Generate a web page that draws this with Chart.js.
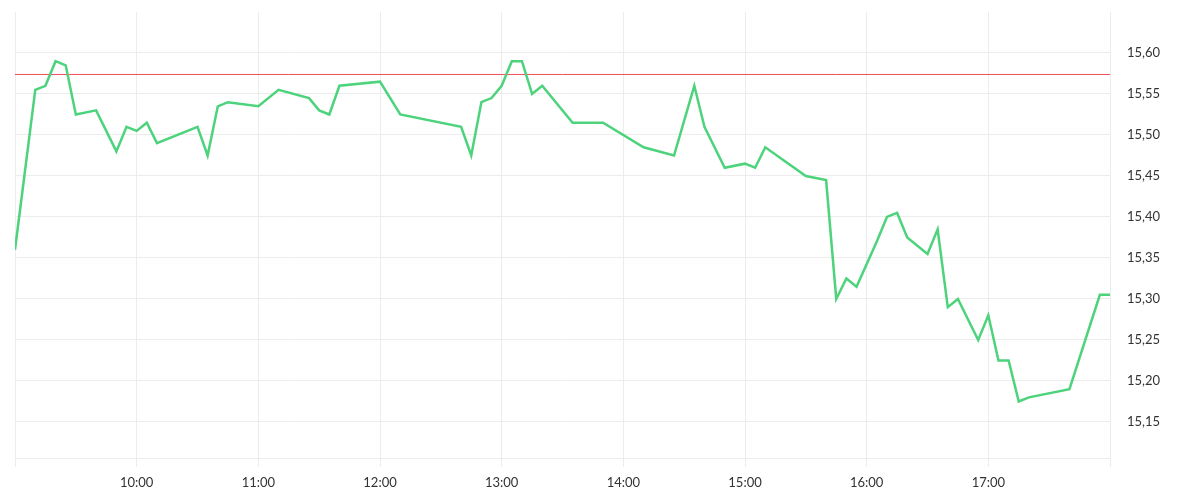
<!DOCTYPE html>
<html>
<head>
<meta charset="utf-8">
<script src="https://cdn.jsdelivr.net/npm/chart.js@4.4.1/dist/chart.umd.min.js"></script>
<style>
  html, body { margin: 0; padding: 0; background: #ffffff; }
  #wrap { width: 1200px; height: 500px; position: relative; }
</style>
</head>
<body>
<div id="wrap"><canvas id="c"></canvas></div>
<script>
// ---- data ----
const times = [
  "09:00","09:10","09:15","09:20","09:25","09:30","09:40","09:50","09:55",
  "10:00","10:05","10:10","10:30","10:35","10:40","10:45",
  "11:00","11:10","11:25","11:30","11:35","11:40",
  "12:00","12:10","12:40","12:45","12:50","12:55",
  "13:00","13:05","13:10","13:15","13:20","13:35","13:50",
  "14:10","14:25","14:35","14:40","14:50",
  "15:00","15:05","15:10","15:30","15:40","15:45","15:50","15:55",
  "16:05","16:10","16:15","16:20","16:30","16:35","16:40","16:45","16:55",
  "17:00","17:05","17:10","17:15","17:20","17:40","17:55","18:00"
];
const prices = [
  15.36,15.555,15.56,15.59,15.585,15.525,15.53,15.48,15.51,
  15.505,15.515,15.49,15.51,15.475,15.535,15.54,
  15.535,15.555,15.545,15.53,15.525,15.56,
  15.565,15.525,15.51,15.475,15.54,15.545,
  15.56,15.59,15.59,15.55,15.56,15.515,15.515,
  15.485,15.475,15.56,15.51,15.46,
  15.465,15.46,15.485,15.45,15.445,15.30,15.325,15.315,
  15.37,15.40,15.405,15.375,15.355,15.385,15.29,15.30,15.25,
  15.28,15.225,15.225,15.175,15.18,15.19,15.305,15.305
];
const referencePrice = 15.5738;
const sessionStart = "09:00";
const sessionEnd = "18:00";
const xTickTimes = ["09:00","10:00","11:00","12:00","13:00","14:00","15:00","16:00","17:00","18:00"];
const xTickLabels = ["","10:00","11:00","12:00","13:00","14:00","15:00","16:00","17:00",""];
const yTickValues = [15.15,15.20,15.25,15.30,15.35,15.40,15.45,15.50,15.55,15.60];
const yMin = 15.106;
const yMax = 15.65;

// ---- helpers ----
function toMin(t) {
  const [h, m] = t.split(":").map(Number);
  const [h0, m0] = sessionStart.split(":").map(Number);
  return (h * 60 + m) - (h0 * 60 + m0);
}
const priceData = times.map((t, i) => ({ x: toMin(t), y: prices[i] }));
const refData = [
  { x: toMin(sessionStart), y: referencePrice },
  { x: toMin(sessionEnd), y: referencePrice }
];
const xTickVals = xTickTimes.map(toMin);

const gridColor = "#ececec";
const fontSpec = { family: "Lato", size: 13 };

new Chart(document.getElementById("c"), {
  type: "line",
  data: {
    datasets: [
      {
        data: refData,
        borderColor: "#f2505a",
        borderWidth: 1,
        pointRadius: 0,
        fill: false,
        order: 2
      },
      {
        data: priceData,
        borderColor: "#4cd37b",
        borderWidth: 2.5,
        pointRadius: 0,
        tension: 0,
        fill: false,
        order: 1
      }
    ]
  },
  options: {
    responsive: true,
    maintainAspectRatio: false,
    animation: false,
    layout: { padding: { left: 15, top: 12, right: 0, bottom: 0 } },
    plugins: {
      legend: { display: false },
      tooltip: { enabled: false }
    },
    scales: {
      x: {
        type: "linear",
        min: toMin(sessionStart),
        max: toMin(sessionEnd),
        afterBuildTicks: (s) => { s.ticks = xTickVals.map(v => ({ value: v })); },
        afterFit: (s) => { s.height = 42; s.paddingLeft = 0; s.paddingRight = 0; },
        grid: { color: gridColor, tickLength: 9, drawTicks: true, lineWidth: 1 },
        border: { color: gridColor },
        ticks: {
          color: "#333333",
          font: fontSpec,
          padding: 8,
          maxRotation: 0,
          autoSkip: false,
          callback: (v) => xTickLabels[xTickVals.indexOf(v)] ?? ""
        }
      },
      y: {
        position: "right",
        min: yMin,
        max: yMax,
        afterBuildTicks: (s) => { s.ticks = yTickValues.map(v => ({ value: v })); },
        afterFit: (s) => { s.width = 90; s.paddingTop = 0; s.paddingBottom = 0; },
        grid: { color: gridColor, drawTicks: false, lineWidth: 1 },
        border: { display: false },
        ticks: {
          color: "#333333",
          font: fontSpec,
          padding: 17,
          autoSkip: false,
          callback: (v) => Number(v).toFixed(2).replace(".", ",")
        }
      }
    }
  }
});
</script>
</body>
</html>
